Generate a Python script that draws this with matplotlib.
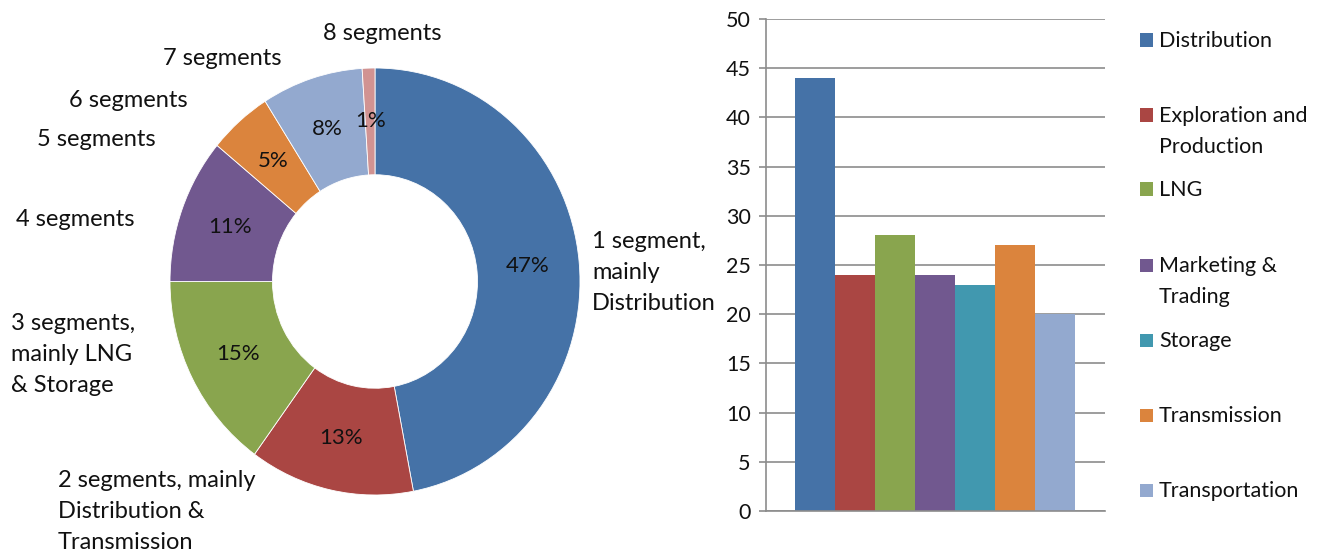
import matplotlib
matplotlib.use("Agg")
import matplotlib.pyplot as plt
from matplotlib.patches import Rectangle

plt.rcParams["font.family"] = ["Lato", "DejaVu Sans"]

# Donut: share of companies by number of business segments
segment_labels = [
    "1 segment,\nmainly\nDistribution",
    "2 segments, mainly\nDistribution &\nTransmission",
    "3 segments,\nmainly LNG\n& Storage",
    "4 segments",
    "5 segments",
    "6 segments",
    "7 segments",
    "8 segments",
]
segment_share = [47, 13, 15, 11, 0, 5, 8, 1]
segment_colors = ["#4572A7", "#AA4643", "#89A54E", "#71588F", "#4198AF",
                  "#DB843D", "#93A9CF", "#D19392"]

# Bars: count per segment
business_segments = ["Distribution", "Exploration and\nProduction", "LNG",
                     "Marketing &\nTrading", "Storage", "Transmission",
                     "Transportation"]
segment_counts = [44, 24, 28, 24, 23, 27, 20]
bar_colors = ["#4572A7", "#AA4643", "#89A54E", "#71588F", "#4198AF",
              "#DB843D", "#93A9CF"]
y_ticks = [0, 5, 10, 15, 20, 25, 30, 35, 40, 45, 50]

W, H = 1319, 559
fig = plt.figure(figsize=(W / 100, H / 100), dpi=100)


def px_axes(left, top, right, bottom):
    return fig.add_axes([left / W, 1 - bottom / H, (right - left) / W, (bottom - top) / H])


def px_text(x, y, s, **kw):
    fig.text(x / W, 1 - y / H, s, **kw)


FS_LBL = 17      # donut category labels
FS_SMALL = 15.5  # percentages, ticks, legend
TXT = "#111111"

# ---- donut ----
pie_ax = px_axes(170, 68, 580, 495)
nonzero = [(v, c) for v, c in zip(segment_share, segment_colors) if v > 0]
vals = [v for v, _ in nonzero]
cols = [c for _, c in nonzero]
wedges, _, autotexts = pie_ax.pie(
    vals, colors=cols, startangle=90, counterclock=False, radius=1,
    autopct=lambda p: f"{p:.0f}%", pctdistance=0.75,
    wedgeprops=dict(width=0.5, edgecolor="white", linewidth=0.6),
    textprops=dict(fontsize=FS_SMALL + 0.5, color=TXT),
)
pie_ax.set_aspect("auto")
pie_ax.set_xlim(-1, 1)
pie_ax.set_ylim(-1, 1)

# outer category labels: (left x, centre of first line)
label_pos = [
    (592, 241), (58, 480), (11, 323), (16, 219),
    (37, 139), (69, 100), (163, 58), (323, 33),
]
for lbl, (x, yc) in zip(segment_labels, label_pos):
    px_text(x, yc - 10.2, lbl, fontsize=FS_LBL, color=TXT, ha="left", va="top",
            linespacing=1.60)

# ---- bars ----
bar_ax = px_axes(766, 19, 1105, 511)
xs = range(len(segment_counts))
bar_ax.bar(xs, segment_counts, width=1.0, color=bar_colors, zorder=2)
bar_ax.set_xlim(-1.225, 7.25)
bar_ax.set_ylim(0, 50)
bar_ax.set_yticks(y_ticks)
bar_ax.set_xticks([])
bar_ax.yaxis.grid(True, color="#8c8c8c", linewidth=1.2, zorder=0)
bar_ax.set_axisbelow(True)
for side in ("top", "right"):
    bar_ax.spines[side].set_visible(False)
for side in ("left", "bottom"):
    bar_ax.spines[side].set_color("#8c8c8c")
    bar_ax.spines[side].set_linewidth(1.2)
bar_ax.tick_params(axis="y", length=5, width=1.2, color="#8c8c8c",
                   labelsize=FS_SMALL, labelcolor=TXT, pad=6)

# legend
legend_rows = [40, 115, 189, 265, 340, 415, 490]
for name, col, yc in zip(business_segments, bar_colors, legend_rows):
    fig.patches.append(Rectangle((1140 / W, 1 - (yc + 6.5) / H), 13 / W, 13 / H,
                                 transform=fig.transFigure, facecolor=col,
                                 edgecolor="none"))
    px_text(1159, yc - 9.3, name, fontsize=FS_SMALL, color=TXT, ha="left", va="top",
            linespacing=1.72)

fig.savefig("out.png", dpi=100)
